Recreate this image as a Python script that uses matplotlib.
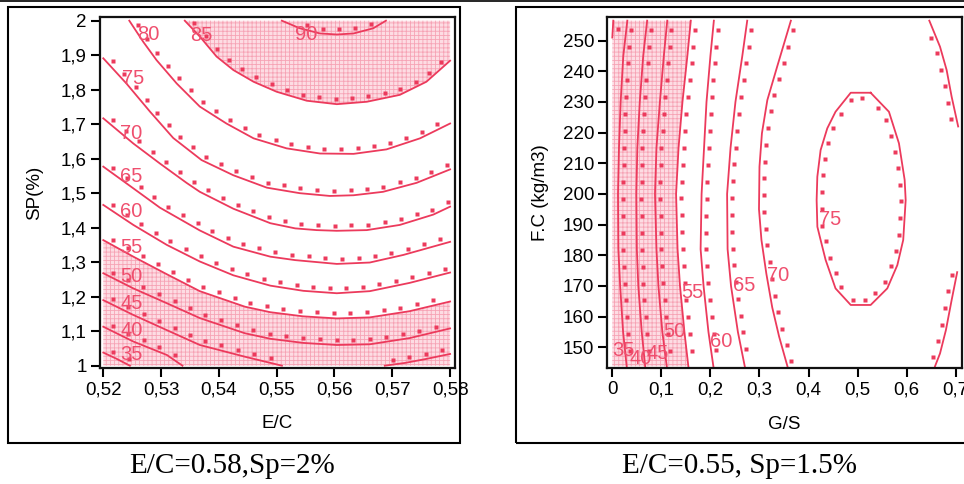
import numpy as np
import matplotlib.pyplot as plt
from matplotlib.patches import Rectangle
from matplotlib.lines import Line2D

plt.rcParams['font.family'] = ['Liberation Sans', 'DejaVu Sans']
plt.rcParams['hatch.linewidth'] = 0.6

RED = '#EC3A5C'
LABEL_RED = '#EF4F6E'
SHADE = '#FDDCE3'
HATCH = '#F6A3B5'

# ---------------- left chart: E/C against SP(%) ----------------
ec_ticks = [0.52, 0.53, 0.54, 0.55, 0.56, 0.57, 0.58]
ec_ticklabels = ['0,52', '0,53', '0,54', '0,55', '0,56', '0,57', '0,58']
sp_ticks = [1.0, 1.1, 1.2, 1.3, 1.4, 1.5, 1.6, 1.7, 1.8, 1.9, 2.0]
sp_ticklabels = ['1', '1,1', '1,2', '1,3', '1,4', '1,5', '1,6', '1,7', '1,8', '1,9', '2']

ec_90 = [0.5509, 0.5540, 0.5575, 0.5604, 0.5633, 0.5667, 0.5689]
sp_90 = [2.0, 1.978, 1.963, 1.960, 1.963, 1.978, 2.0]
ec_85 = [0.5341, 0.5367, 0.5396, 0.5425, 0.5460, 0.5500, 0.5552, 0.5604, 0.5656, 0.5713, 0.5759, 0.5800]
sp_85 = [2.0, 1.954, 1.896, 1.857, 1.823, 1.794, 1.768, 1.758, 1.765, 1.785, 1.823, 1.884]
ec_80 = [0.5245, 0.5269, 0.5292, 0.5327, 0.5367, 0.5413, 0.5460, 0.5517, 0.5575, 0.5633, 0.5690, 0.5748, 0.58]
sp_80 = [2.0, 1.939, 1.886, 1.818, 1.751, 1.702, 1.659, 1.630, 1.615, 1.614, 1.627, 1.659, 1.702]
ec_75 = [0.52, 0.524, 0.5281, 0.5321, 0.537, 0.5425, 0.5483, 0.554, 0.5592, 0.5633, 0.5684, 0.5742, 0.58]
sp_75 = [1.891, 1.818, 1.736, 1.660, 1.596, 1.552, 1.516, 1.500, 1.492, 1.494, 1.504, 1.530, 1.569]
ec_70 = [0.52, 0.5252, 0.5298, 0.5344, 0.5367, 0.5425, 0.5489, 0.5532, 0.5569, 0.5604, 0.5656, 0.5713, 0.5771, 0.58]
sp_70 = [1.717, 1.644, 1.586, 1.530, 1.504, 1.455, 1.413, 1.398, 1.393, 1.391, 1.393, 1.408, 1.438, 1.461]
ec_65 = [0.52, 0.5252, 0.5298, 0.5367, 0.5425, 0.5489, 0.5532, 0.5604, 0.5661, 0.5719, 0.58]
sp_65 = [1.577, 1.514, 1.458, 1.392, 1.345, 1.316, 1.306, 1.295, 1.299, 1.321, 1.359]
ec_60 = [0.52, 0.5252, 0.531, 0.5367, 0.5425, 0.5489, 0.5546, 0.5604, 0.5661, 0.573, 0.58]
sp_60 = [1.466, 1.408, 1.350, 1.302, 1.262, 1.232, 1.217, 1.210, 1.216, 1.240, 1.270]
ec_55 = [0.52, 0.5252, 0.531, 0.5367, 0.5445, 0.5489, 0.5546, 0.5604, 0.5661, 0.573, 0.58]
sp_55 = [1.364, 1.316, 1.265, 1.216, 1.171, 1.155, 1.143, 1.137, 1.140, 1.158, 1.186]
ec_50 = [0.52, 0.5252, 0.531, 0.5367, 0.5445, 0.5489, 0.5546, 0.5604, 0.5661, 0.573, 0.58]
sp_50 = [1.268, 1.224, 1.181, 1.138, 1.094, 1.078, 1.066, 1.060, 1.062, 1.080, 1.108]
ec_45a = [0.52, 0.5252, 0.531, 0.5367, 0.5445, 0.5509]
sp_45a = [1.190, 1.147, 1.103, 1.060, 1.026, 1.0]
ec_45b = [0.5687, 0.5722, 0.5757, 0.58]
sp_45b = [1.0, 1.008, 1.019, 1.034]
ec_40 = [0.52, 0.5252, 0.531, 0.5337]
sp_40 = [1.113, 1.070, 1.031, 1.0]
ec_35 = [0.52, 0.5223, 0.5246]
sp_35 = [1.038, 1.02, 1.0]

left_label_text = ['90', '85', '80', '75', '70', '65', '60', '55', '50', '45', '40', '35']
left_label_ec = [0.5532, 0.535, 0.5258, 0.5232, 0.5229, 0.5229, 0.5229, 0.5229, 0.5229, 0.5229, 0.5229, 0.5229]
left_label_sp = [1.961, 1.958, 1.961, 1.833, 1.674, 1.548, 1.446, 1.343, 1.258, 1.181, 1.101, 1.033]

# ---------------- right chart: G/S against F.C ----------------
gs_ticks = [0, 0.1, 0.2, 0.3, 0.4, 0.5, 0.6, 0.7]
gs_ticklabels = ['0', '0,1', '0,2', '0,3', '0,4', '0,5', '0,6', '0,7']
fc_ticks = [150, 160, 170, 180, 190, 200, 210, 220, 230, 240, 250]

fc_rows = [256.5, 245, 230, 215, 200, 182, 170, 155, 143.8]
gs_40 = [0.0306, 0.0224, 0.017, 0.0136, 0.0116, 0.0123, 0.016, 0.022, 0.0293]
gs_45 = [0.071, 0.063, 0.056, 0.051, 0.049, 0.050, 0.053, 0.060, 0.067]
gs_50 = [0.112, 0.105, 0.097, 0.090, 0.087, 0.090, 0.094, 0.102, 0.111]
gs_55 = [0.160, 0.153, 0.143, 0.135, 0.130, 0.133, 0.138, 0.147, 0.155]
gs_60 = [0.207, 0.200, 0.192, 0.187, 0.182, 0.180, 0.186, 0.196, 0.206]
gs_65 = [0.275, 0.265, 0.251, 0.241, 0.234, 0.235, 0.242, 0.256, 0.270]
gs_30 = [0.002, 0.0]
fc_30 = [256.5, 251.0]
gs_70a = [0.364, 0.336, 0.316, 0.305, 0.300, 0.299, 0.304, 0.314, 0.326, 0.340, 0.357]
fc_70a = [256.5, 241.5, 230.6, 219.8, 208.9, 195.0, 185.0, 174.0, 163.0, 153.5, 143.8]
gs_70b = [0.705, 0.6917, 0.6815, 0.668, 0.6462]
fc_70b = [222.0, 231.7, 240.4, 248.0, 256.5]
gs_70c = [0.6578, 0.668, 0.680, 0.6917, 0.703]
fc_70c = [143.8, 148.0, 155.6, 165.4, 174.5]
gs_75 = [0.5266, 0.486, 0.455, 0.4382, 0.4246, 0.4179, 0.4165, 0.418, 0.4246, 0.4348, 0.455,
         0.486, 0.5266, 0.5605, 0.581, 0.593, 0.598, 0.5959, 0.5843, 0.5639, 0.5266]
fc_75 = [233.0, 233.0, 226.8, 221.4, 214.3, 205.6, 198.0, 189.3, 185.0, 178.5, 169.2,
         163.8, 163.8, 169.2, 176.8, 185.0, 198.0, 204.6, 216.5, 226.8, 233.0]

right_label_text = ['35', '40', '45', '50', '55', '60', '65', '70', '75']
right_label_gs = [0.0, 0.036, 0.070, 0.104, 0.1414, 0.199, 0.2466, 0.315, 0.4213]
right_label_fc = [148.9, 146.4, 148.0, 155.1, 167.9, 151.8, 170.1, 173.5, 191.8]


def side_dots(ax, x, y, box, gap=17.0, off=5.0):
    """Dotted row on the left side of the path (the side of higher values)."""
    pts = ax.transData.transform(np.column_stack([x, y]))
    seg = np.diff(pts, axis=0)
    seglen = np.hypot(seg[:, 0], seg[:, 1])
    s = np.concatenate([[0], np.cumsum(seglen)])
    d = np.arange(gap / 2, s[-1], gap)
    px = np.interp(d, s, pts[:, 0])
    py = np.interp(d, s, pts[:, 1])
    idx = np.clip(np.searchsorted(s, d) - 1, 0, len(seg) - 1)
    t = seg[idx] / seglen[idx][:, None]
    q = np.column_stack([px - off * t[:, 1], py + off * t[:, 0]])
    dx, dy = ax.transData.inverted().transform(q).T
    keep = (dx >= box[0]) & (dx <= box[1]) & (dy >= box[2]) & (dy <= box[3])
    ax.plot(dx[keep], dy[keep], 's', ms=2.3, color=RED, mec='none', zorder=3)


def style_axes(ax, xt, xtl, yt, ytl):
    ax.set_xticks(xt)
    ax.set_xticklabels(xtl)
    ax.set_yticks(yt)
    ax.set_yticklabels(ytl)
    ax.tick_params(direction='out', length=6.5, width=1.5, labelsize=13.5, pad=3, colors='black')
    for sp in ax.spines.values():
        sp.set_linewidth(1.6)
        sp.set_color('#111111')


fig = plt.figure(figsize=(9.64, 4.84), dpi=100)

# left
ax1 = fig.add_axes([100 / 964, 116 / 484, 355 / 964, 351 / 484])
ax1.set_xlim(0.51943, 0.58085)
ax1.set_ylim(0.9933, 2.0107)
box1 = (0.52, 0.58, 1.0, 2.0)

ax1.fill(ec_85 + [0.58, 0.5341], sp_85 + [2.0, 2.0], facecolor=SHADE, edgecolor=HATCH,
         hatch='++++', linewidth=0, zorder=1)
ax1.fill(ec_55 + [0.58, 0.52], sp_55 + [1.0, 1.0], facecolor=SHADE, edgecolor=HATCH,
         hatch='++++', linewidth=0, zorder=1)

left_curves = [(ec_90, sp_90), (ec_85, sp_85), (ec_80, sp_80), (ec_75, sp_75), (ec_70, sp_70),
               (ec_65, sp_65), (ec_60, sp_60), (ec_55, sp_55), (ec_50, sp_50), (ec_45a, sp_45a),
               (ec_45b, sp_45b), (ec_40, sp_40), (ec_35, sp_35)]
for cx, cy in left_curves:
    ax1.plot(cx, cy, color=RED, lw=1.3, zorder=2)
    side_dots(ax1, cx, cy, box1)
for txt, lx, ly in zip(left_label_text, left_label_ec, left_label_sp):
    ax1.text(lx, ly, txt, color=LABEL_RED, fontsize=14.5, ha='left', va='center', zorder=4)

style_axes(ax1, ec_ticks, ec_ticklabels, sp_ticks, sp_ticklabels)
ax1.set_xlabel('E/C', fontsize=13.5)
ax1.set_ylabel('SP(%)', fontsize=13.5)
ax1.xaxis.set_label_coords(0.5, -0.135)
ax1.yaxis.set_label_coords(-0.16, 0.5)

# right
ax2 = fig.add_axes([607.3 / 964, 115.7 / 484, 354.4 / 964, 351 / 484])
ax2.set_xlim(-0.0102, 0.7122)
ax2.set_ylim(143.15, 257.6)
box2 = (0.0, 0.705, 143.8, 256.5)

ax2.fill(gs_55 + [0.0, 0.0], fc_rows + [143.8, 256.5], facecolor=SHADE, edgecolor=HATCH,
         hatch='++++', linewidth=0, zorder=1)

right_curves = [(gs_30, fc_30), (gs_40, fc_rows), (gs_45, fc_rows), (gs_50, fc_rows),
                (gs_55, fc_rows), (gs_60, fc_rows), (gs_65, fc_rows), (gs_70a, fc_70a),
                (gs_70b, fc_70b), (gs_70c, fc_70c), (gs_75, fc_75)]
for cx, cy in right_curves:
    ax2.plot(cx, cy, color=RED, lw=1.3, zorder=2)
    side_dots(ax2, cx, cy, box2)
for txt, lx, ly in zip(right_label_text, right_label_gs, right_label_fc):
    ax2.text(lx, ly, txt, color=LABEL_RED, fontsize=14.5, ha='left', va='center', zorder=4)

style_axes(ax2, gs_ticks, gs_ticklabels, fc_ticks, [str(v) for v in fc_ticks])
ax2.set_xlabel('G/S', fontsize=13.5)
ax2.set_ylabel('F.C (kg/m3)', fontsize=13.5)
ax2.xaxis.set_label_coords(0.5, -0.135)
ax2.yaxis.set_label_coords(-0.1645, 0.5)

# panel frames, top rule and captions
fig.add_artist(Rectangle((8.3 / 964, 40.7 / 484), 451.7 / 964, 436 / 484, transform=fig.transFigure,
                         fill=False, lw=1.5, ec='black'))
fig.add_artist(Rectangle((515.7 / 964, 40.7 / 484), 0.6, 436 / 484, transform=fig.transFigure,
                         fill=False, lw=1.5, ec='black'))
fig.add_artist(Line2D([0, 1], [0.998, 0.998], transform=fig.transFigure, color='black', lw=1.2))

fig.text(232.5 / 964, 10.7 / 484, 'E/C=0.58,Sp=2%', ha='center', va='baseline',
         fontsize=21, family=['Liberation Serif', 'DejaVu Serif'])
fig.text(739 / 964, 10.7 / 484, 'E/C=0.55, Sp=1.5%', ha='center', va='baseline',
         fontsize=21, family=['Liberation Serif', 'DejaVu Serif'])

fig.savefig('out.png', dpi=100)
